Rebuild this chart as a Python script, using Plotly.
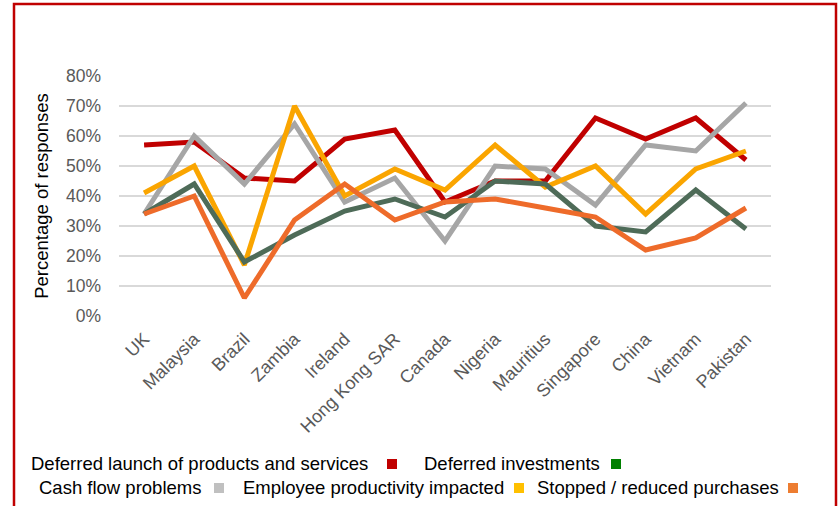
import plotly.graph_objects as go

countries = ["UK", "Malaysia", "Brazil", "Zambia", "Ireland", "Hong Kong SAR", "Canada",
             "Nigeria", "Mauritius", "Singapore", "China", "Vietnam", "Pakistan"]

deferred_launch = [57, 58, 46, 45, 59, 62, 38, 45, 45, 66, 59, 66, 52]
deferred_invest = [34, 44, 18, 27, 35, 39, 33, 45, 44, 30, 28, 42, 29]
cash_flow = [34, 60, 44, 64, 38, 46, 25, 50, 49, 37, 57, 55, 71]
employee_prod = [41, 50, 17, 70, 40, 49, 42, 57, 43, 50, 34, 49, 55]
stopped_purch = [34, 40, 6, 32, 44, 32, 38, 39, 36, 33, 22, 26, 36]

series_names = ["Deferred launch of products and services", "Deferred investments",
                "Cash flow problems", "Employee productivity impacted",
                "Stopped / reduced purchases"]
series_values = [deferred_launch, deferred_invest, cash_flow, employee_prod, stopped_purch]
line_colors = ["#C00000", "#4E6B58", "#A6A6A6", "#FAA500", "#EE6B2A"]
swatch_colors = ["#C00000", "#008000", "#C0C0C0", "#FFC000", "#ED7D31"]
# draw order (back to front)
draw_order = [0, 2, 3, 1, 4]

W, H = 840, 506
ML, MR, MT, MB = 119, 69, 76, 190
PW, PH = W - ML - MR, H - MT - MB


def px(x):
    return (x - ML) / PW


def py(y):
    return (H - MB - y) / PH


fig = go.Figure()
for i in draw_order:
    fig.add_trace(go.Scatter(
        x=countries, y=series_values[i], name=series_names[i], mode="lines",
        line=dict(color=line_colors[i], width=5), showlegend=False))

FONT = "Liberation Sans, Arial, sans-serif"

fig.update_layout(
    width=W, height=H,
    margin=dict(l=ML, r=MR, t=MT, b=MB),
    paper_bgcolor="white", plot_bgcolor="white",
    font=dict(family=FONT, size=18, color="#595959"),
    xaxis=dict(type="category", range=[-0.5, 12.5], tickangle=-45, showgrid=False,
               showline=False, ticks="", ticklabelstandoff=8,
               tickfont=dict(size=18, color="#595959")),
    yaxis=dict(range=[0, 80], dtick=10, ticksuffix="%", showgrid=True,
               gridcolor="#D9D9D9", gridwidth=1.5, zeroline=False, showline=False,
               ticklabelstandoff=17,
               tickfont=dict(size=17.5, color="#595959"),
               title=dict(text="Percentage of responses",
                          font=dict(size=18.5, color="#000000"), standoff=12)),
)

# legend layout: (series index, text left px, swatch left px, row centre px)
legend_layout = [
    (0, 29, 387, 463),
    (1, 422, 611, 463),
    (2, 37, 214, 487),
    (3, 241, 514, 487),
    (4, 535, 788, 487),
]
for k, tx, sx, cy in legend_layout:
    fig.add_annotation(text=series_names[k], xref="paper", yref="paper",
                       x=px(tx), y=py(cy), xanchor="left", yanchor="middle",
                       showarrow=False,
                       font=dict(family=FONT, size=18.5, color="#000000"))
    fig.add_shape(type="rect", xref="paper", yref="paper",
                  x0=px(sx), x1=px(sx + 10), y0=py(cy + 6), y1=py(cy - 4),
                  line=dict(width=0), fillcolor=swatch_colors[k])

fig.add_shape(type="rect", xref="paper", yref="paper", x0=px(14), x1=px(836),
              y0=py(515), y1=py(4), line=dict(color="#C00000", width=2.5),
              fillcolor="rgba(0,0,0,0)", layer="below")

fig.write_html("out.html", post_script="document.body.style.margin='0';",
               config={"displayModeBar": False})
